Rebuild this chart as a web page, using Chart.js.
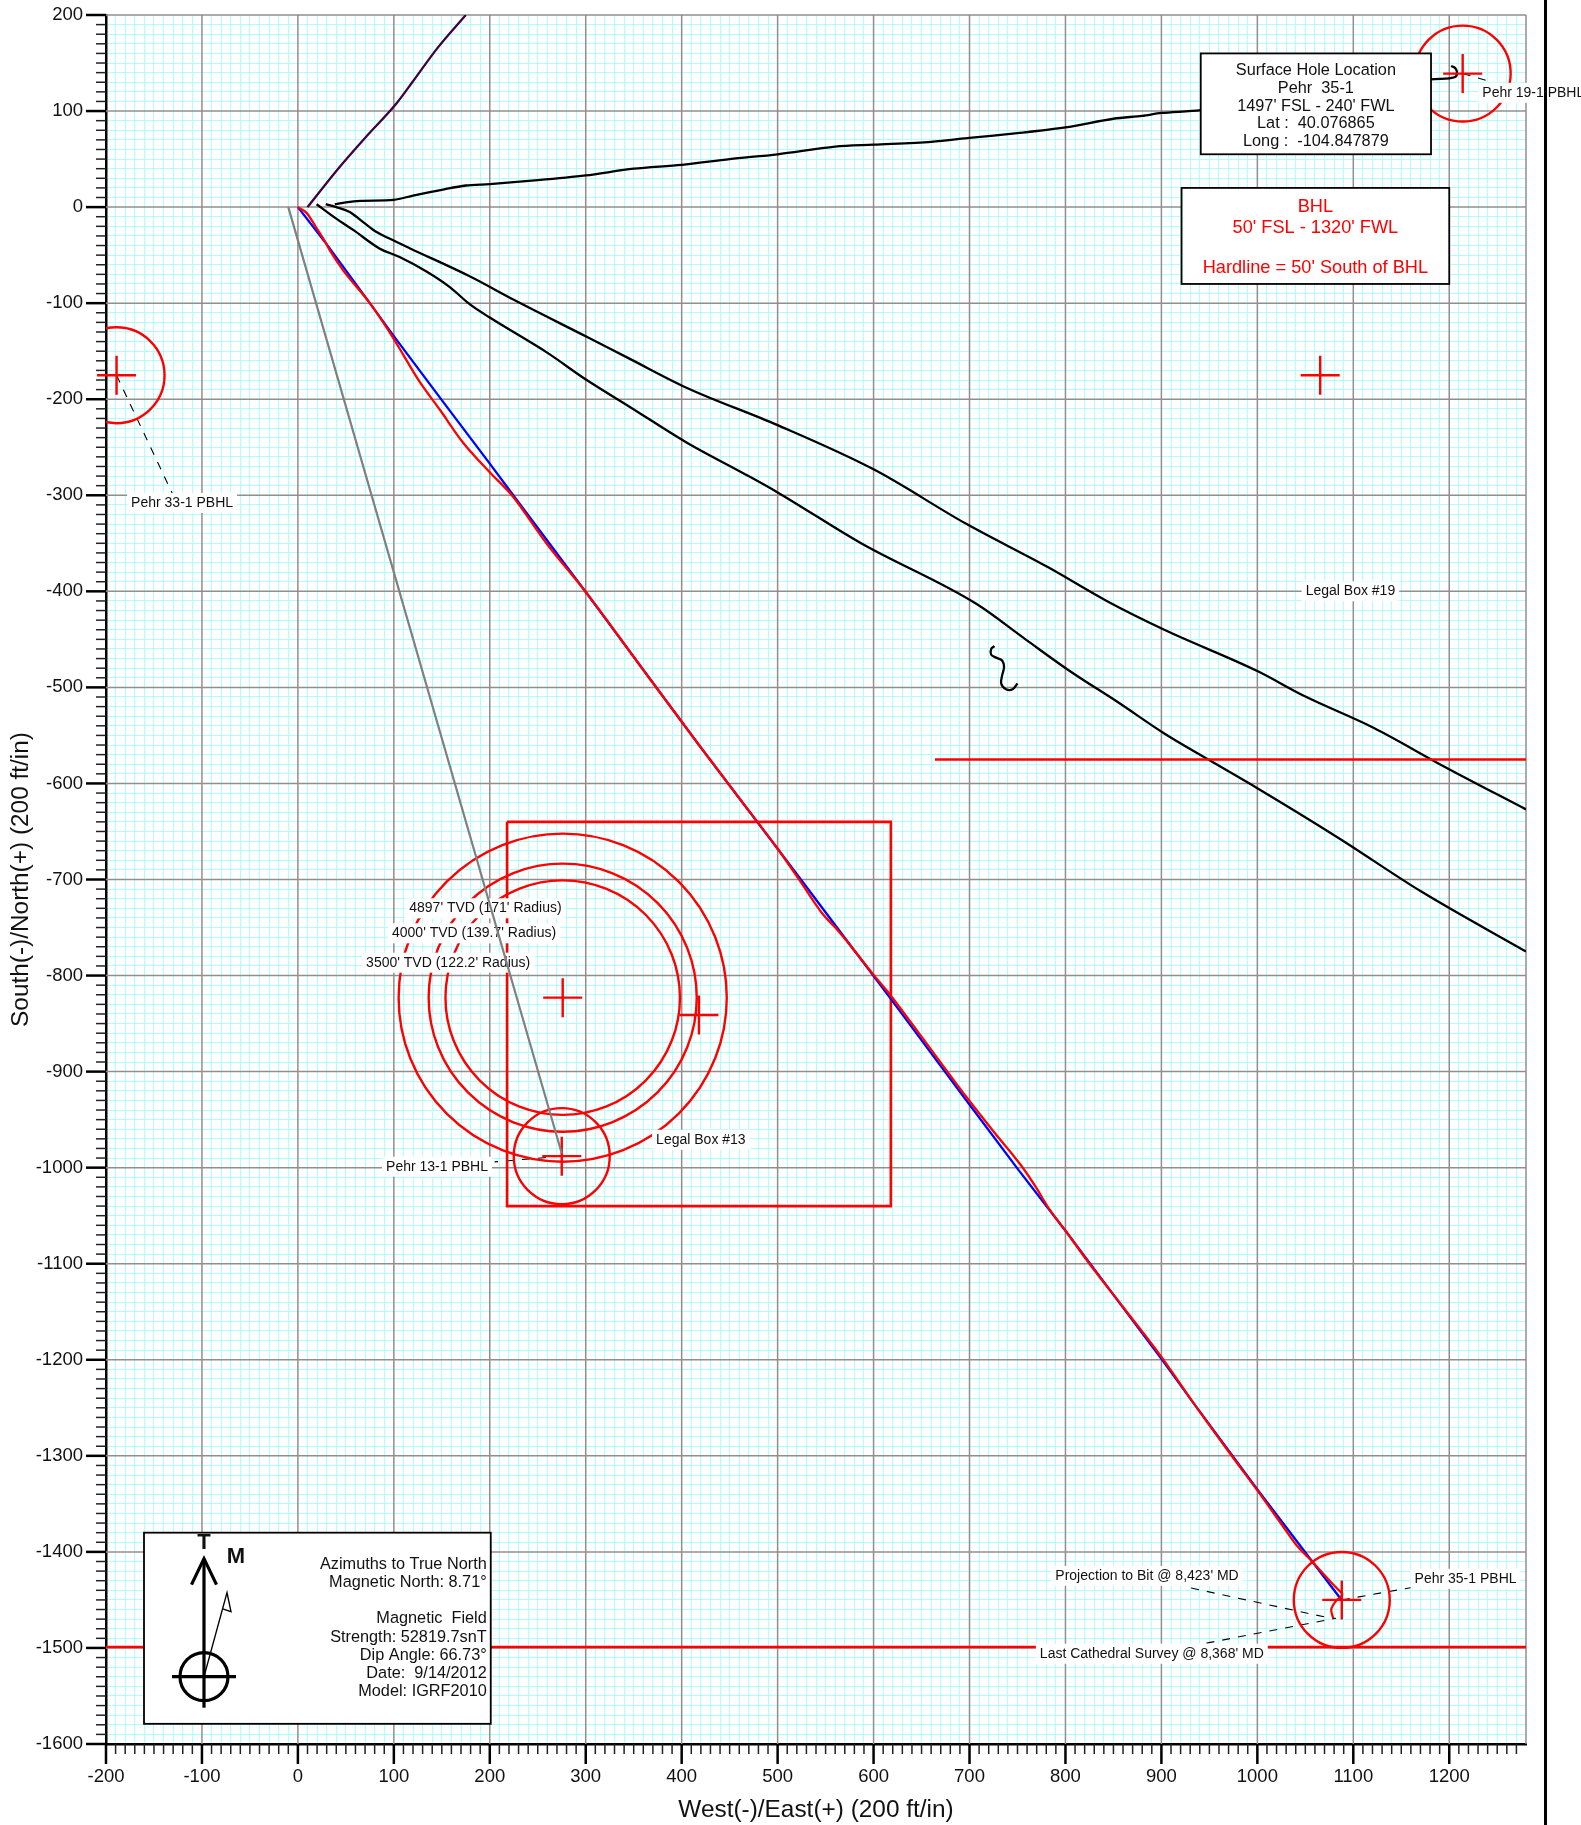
<!DOCTYPE html>
<html>
<head>
<meta charset="utf-8">
<style>
html,body{margin:0;padding:0;background:#fff;overflow:hidden}
#w{position:relative;width:1581px;height:1825px}
canvas{display:block}
</style>
<script src="https://cdn.jsdelivr.net/npm/chart.js@4/dist/chart.umd.min.js"></script>
</head>
<body>
<div id="w"><canvas id="c" width="1581" height="1825"></canvas></div>
<script>
// ---- axis ranges and titles
const xMin = -200, xMax = 1280, yMin = -1600, yMax = 200, minorStep = 10, majorStep = 100;
const xTitle = "West(-)/East(+) (200 ft/in)";
const yTitle = "South(-)/North(+) (200 ft/in)";

// ---- well paths (East, North in ft)
const redX = [0,9,17.7,26.3,33.3,47,75,96,110,127,148,172,200,223,259,301,360,418,462,500,523,547,561,578.5,599,618,648,698,724,754,769,783,801,825,860,900,932,974,1000,1025,1040,1058,1079,1089];
const redY = [0,-6,-19,-32.6,-45,-65.6,-100,-131,-154,-182,-211,-245,-276,-300,-350,-402,-482,-560,-618,-668,-701,-736,-751,-772,-798,-821,-861,-928,-961,-998,-1020,-1043,-1067,-1100,-1145,-1197,-1243,-1301,-1336,-1371,-1392,-1411,-1434,-1444];
const blueX = [0,28,75,99,150,200,226,301,418,462,500,525,577,617,696,750,801,900,932,1000,1058,1087];
const blueY = [0,-36,-100,-133,-201,-267,-302,-402,-560,-618,-668,-701,-770,-823,-929,-1001,-1067,-1199,-1243,-1335,-1411,-1449];
const tailX = [1089,1087,1082,1077,1079];
const tailY = [-1444,-1447,-1451,-1460,-1469];
const purpleX = [10,42,70,102,120,145,175];
const purpleY = [0,40,72,107,131,165,200];
const eastLineX = [38.5,50,65,100,120,150,175,200,250,300,350,400,450,500,560,600,660,700,750,800,850,880,900,941,1181,1200,1207,1208,1206,1202];
const eastLineY = [3,5,6.5,7.5,12,18,22.5,24,28,33,40,44,50,55,63,65,68,72,77,83,92,95,98,101,133,134,136,141,145,147];
const upperX = [29,40,54,68,82,96,117,179,226,301,346,405,500,600,697,782,843,903,1000,1049,1121,1194,1280];
const upperY = [3,0,-5,-15.6,-26,-33,-43,-72,-97,-135,-158,-188,-227,-273,-330,-375,-410,-440,-483,-509,-542,-582,-627];
const lowerX = [19.5,40,58,85,106,134,158,179,200,259,301,346,405,466,500,587,707,757,806,854,903,952,1000,1085,1170,1280];
const lowerY = [3,-12,-24,-43,-52,-67,-83,-101,-115,-151,-180,-208,-245,-278,-297,-350,-413,-449,-484,-515,-548,-577,-605,-657,-712,-775];
const squiggleX = [726,722.6,722.6,727.8,734,736,734,733,738,745,750];
const squiggleY = [-457,-460,-466,-469,-472,-479,-487.5,-496,-502,-502,-496];
const grayX = [-10,275];
const grayY = [0,-985];

// ---- lease lines
const legalBoxX = [218,618,618,218,218];
const legalBoxY = [-640,-640,-1040,-1040,-640];
const hard1X = [664,1280];
const hard1Y = [-575,-575];
const hard2X = [-200,1280];
const hard2Y = [-1499,-1499];

// ---- target circles and crosshairs
const circleX = [276,276,276,275,1214,-189,1088];
const circleY = [-823,-823,-823,-988,139,-175,-1450];
const circleR = [171,139.7,122.2,50,50,50,50];
const crossX = [276,418,275,1214,-189,1065.5,1088];
const crossY = [-823,-841,-988,139,-175,-175,-1450];

// ---- dashed leaders
const leaderX = [[-189,-130],[1214,1238],[1088,1161],[931,1076],[947,1082],[275,205]];
const leaderY = [[-175,-300],[139,132],[-1450,-1437],[-1437.6,-1469],[-1495,-1469],[-988,-994]];

// ---- annotation labels
const labelText = ["Pehr 33-1 PBHL","Legal Box #19","4897' TVD (171' Radius)","4000' TVD (139.7' Radius)","3500' TVD (122.2' Radius)","Legal Box #13","Pehr 13-1 PBHL","Pehr 19-1 PBHL","Projection to Bit @ 8,423' MD","Pehr 35-1 PBHL","Last Cathedral Survey @ 8,368' MD"];
const labelX = [-120.7,1097,195.5,183.6,156.6,420,145,1287.6,885,1217,890];
const labelY = [-308,-400,-730,-756,-786.6,-971,-999,119,-1425,-1428,-1506];

// ---- text boxes
const surfaceLines = ["Surface Hole Location","Pehr  35-1","1497' FSL - 240' FWL","Lat :  40.076865","Long :  -104.847879"];
const bhlLines = ["BHL","50' FSL - 1320' FWL","","Hardline = 50' South of BHL"];
const magLines = ["Azimuths to True North","Magnetic North: 8.71\u00b0","","Magnetic  Field","Strength: 52819.7snT","Dip Angle: 66.73\u00b0","Date:  9/14/2012","Model: IGRF2010"];
const surfaceBox = [941,160,1181,55];
const bhlBox = [921,20,1200,-80];
const magBox = [-160.4,-1380,201,-1579];

const FONT = '"Liberation Sans", Arial, sans-serif';
const pts = (xs, ys) => xs.map((x, i) => ({x, y: ys[i]}));
const line = (xs, ys, color, width, extra) => Object.assign({
  data: pts(xs, ys), showLine: true, borderColor: color, borderWidth: width,
  pointRadius: 0, fill: false, tension: 0, clip: 0
}, extra || {});
const smooth = {cubicInterpolationMode: 'monotone'};

const datasets = [
  line(grayX, grayY, '#808080', 2.2),
  line(redX, redY, '#ff0000', 2.3, smooth),
  line(tailX, tailY, '#ff0000', 2.3, {tension: 0.3}),
  line(blueX, blueY, '#0000ff', 2.3),
  {
    data: pts(crossX, crossY), showLine: false, pointStyle: 'cross',
    pointRadius: ctx => (ctx.chart.chartArea ? 19.5 : 0),
    pointBorderColor: '#ff0000', pointBorderWidth: 2.4,
    pointBackgroundColor: 'transparent', clip: false
  },
  {
    data: pts(circleX, circleY), showLine: false, pointStyle: 'circle',
    pointRadius: ctx => {
      if (!ctx.chart.chartArea) return 0;
      const s = ctx.chart.scales.x;
      return Math.abs(s.getPixelForValue(circleR[ctx.dataIndex]) - s.getPixelForValue(0));
    },
    pointBorderColor: '#ff0000', pointBorderWidth: 2.4,
    pointBackgroundColor: 'transparent', clip: 0
  },
  line(legalBoxX, legalBoxY, '#ff0000', 2.6),
  line(hard1X, hard1Y, '#ff0000', 2.6),
  line(hard2X, hard2Y, '#ff0000', 2.6),
  line(eastLineX, eastLineY, '#000000', 2.3, {tension: 0.3}),
  line(upperX, upperY, '#000000', 2.3, smooth),
  line(lowerX, lowerY, '#000000', 2.3, smooth),
  line(squiggleX, squiggleY, '#000000', 2.3, {tension: 0.35}),
  line(purpleX, purpleY, '#400040', 2.3, smooth)
];
leaderX.forEach((xs, i) => datasets.push(line(xs, leaderY[i], '#000000', 1.1, {borderDash: [8, 8]})));

const tickValue = v => Math.round(v);
const isMajor = (v, max) => v % majorStep === 0 || v === max;
const gridColor = max => ctx => isMajor(tickValue(ctx.tick.value), max) ? 'rgba(0,0,0,0)' : '#aeffff';
const labelCb = v => (tickValue(v) % majorStep === 0 ? String(tickValue(v)) : '');

const overlayPlugin = {
  id: 'overlay',
  beforeDatasetsDraw(chart) {
    const ctx = chart.ctx, sx = chart.scales.x, sy = chart.scales.y;
    ctx.save();
    // major grid on top of the minor grid
    ctx.strokeStyle = '#8f8f8f'; ctx.lineWidth = 1.5;
    sy.ticks.forEach(t => {
      const v = tickValue(t.value);
      if (!isMajor(v, yMax) || v === yMin) return;
      const p = sy.getPixelForValue(v);
      ctx.beginPath(); ctx.moveTo(sx.left, p); ctx.lineTo(sx.right, p); ctx.stroke();
    });
    sx.ticks.forEach(t => {
      const v = tickValue(t.value);
      if (!isMajor(v, xMax) || v === xMin) return;
      const p = sx.getPixelForValue(v);
      ctx.beginPath(); ctx.moveTo(p, sy.top); ctx.lineTo(p, sy.bottom); ctx.stroke();
    });
    // tick marks: long at hundreds, short at tens
    sy.ticks.forEach(t => {
      const v = tickValue(t.value), major = v % majorStep === 0;
      const p = sy.getPixelForValue(v);
      ctx.lineWidth = major ? 2.5 : 1.5;
      ctx.strokeStyle = major ? '#000' : '#222';
      ctx.beginPath(); ctx.moveTo(sx.left, p); ctx.lineTo(sx.left - (major ? 20 : 10), p); ctx.stroke();
    });
    sx.ticks.forEach(t => {
      const v = tickValue(t.value), major = v % majorStep === 0;
      if (v === xMax) return;
      const p = sx.getPixelForValue(v);
      ctx.lineWidth = major ? 2.5 : 1.5;
      ctx.strokeStyle = major ? '#000' : '#222';
      ctx.beginPath(); ctx.moveTo(p, sy.bottom); ctx.lineTo(p, sy.bottom + (major ? 20 : 10)); ctx.stroke();
    });
    ctx.restore();
  },
  beforeDatasetDraw(chart, args) {
    if (args.index !== 0) return;
    const ctx = chart.ctx, sx = chart.scales.x, sy = chart.scales.y;
    const X = v => sx.getPixelForValue(v), Y = v => sy.getPixelForValue(v);
    ctx.save();
    // leader-line labels on white
    ctx.font = '14px ' + FONT;
    ctx.textAlign = 'center'; ctx.textBaseline = 'middle';
    labelText.forEach((t, i) => {
      const w = ctx.measureText(t).width, px = X(labelX[i]), py = Y(labelY[i]);
      ctx.fillStyle = '#fff';
      ctx.fillRect(px - w / 2 - 4, py - 10, w + 8, 20);
    });
    ctx.fillStyle = '#111';
    labelText.forEach((t, i) => ctx.fillText(t, X(labelX[i]), Y(labelY[i])));

    const box = b => {
      const x = X(b[0]), y = Y(b[1]), w = X(b[2]) - x, h = Y(b[3]) - y;
      ctx.fillStyle = '#fff'; ctx.fillRect(x, y, w, h);
      ctx.strokeStyle = '#000'; ctx.lineWidth = 1.8; ctx.strokeRect(x, y, w, h);
      return {x, y, w, h};
    };
    // surface hole box
    let r = box(surfaceBox);
    ctx.font = '16.3px ' + FONT; ctx.fillStyle = '#111'; ctx.textAlign = 'center';
    surfaceLines.forEach((t, i) => ctx.fillText(t, r.x + r.w / 2, r.y + 17.5 + i * 17.6));
    // BHL box
    r = box(bhlBox);
    ctx.font = '18.2px ' + FONT; ctx.fillStyle = '#ff0000';
    bhlLines.forEach((t, i) => ctx.fillText(t, r.x + r.w / 2, r.y + 19.5 + i * 20.2));
    // magnetic box
    r = box(magBox);
    ctx.font = '16.3px ' + FONT; ctx.fillStyle = '#111'; ctx.textAlign = 'right';
    magLines.forEach((t, i) => ctx.fillText(t, r.x + r.w - 4, r.y + 32 + i * 18.1));
    // north arrow
    const ox = r.x + 60, oy = r.y;
    ctx.strokeStyle = '#000'; ctx.lineWidth = 3.2;
    ctx.beginPath(); ctx.moveTo(ox, oy + 26); ctx.lineTo(ox, oy + 175); ctx.stroke();
    ctx.beginPath(); ctx.moveTo(ox - 12.5, oy + 52); ctx.lineTo(ox, oy + 26); ctx.lineTo(ox + 12.5, oy + 52); ctx.stroke();
    ctx.beginPath(); ctx.arc(ox, oy + 144, 24, 0, Math.PI * 2); ctx.stroke();
    ctx.beginPath(); ctx.moveTo(ox - 32, oy + 144); ctx.lineTo(ox + 32, oy + 144); ctx.stroke();
    ctx.lineWidth = 1.4;
    ctx.beginPath(); ctx.moveTo(ox, oy + 144); ctx.lineTo(ox + 23, oy + 60); ctx.lineTo(ox + 27, oy + 79); ctx.lineTo(ox + 18, oy + 76); ctx.stroke();
    ctx.font = 'bold 22px ' + FONT; ctx.fillStyle = '#111'; ctx.textAlign = 'center';
    ctx.fillText('T', ox, oy + 10);
    ctx.fillText('M', ox + 32, oy + 24);
    ctx.restore();
  },
  afterDraw(chart) {
    const ctx = chart.ctx;
    ctx.save();
    ctx.fillStyle = '#000';
    ctx.fillRect(1544, 0, 3, chart.height);
    ctx.restore();
  }
};

new Chart(document.getElementById('c').getContext('2d'), {
  type: 'scatter',
  data: {datasets},
  plugins: [overlayPlugin],
  options: {
    responsive: false,
    animation: false,
    events: [],
    layout: {padding: {top: 15, right: 55, left: 0, bottom: 0}},
    plugins: {legend: {display: false}, tooltip: {enabled: false}, title: {display: false}},
    scales: {
      x: {
        type: 'linear', min: xMin, max: xMax, position: 'bottom',
        afterFit: s => { s.height = 81; s.paddingLeft = 0; s.paddingRight = 0; },
        grid: {color: gridColor(xMax), lineWidth: 1, drawTicks: false},
        border: {display: true, color: '#000', width: 2.5},
        ticks: {stepSize: minorStep, autoSkip: false, maxRotation: 0, padding: 22, callback: labelCb,
                color: '#111', font: {family: FONT, size: 18.5}},
        title: {display: true, text: xTitle, color: '#111', font: {family: FONT, size: 24.4}, padding: {top: 0, bottom: 0.5}}
      },
      y: {
        type: 'linear', min: yMin, max: yMax, position: 'left',
        afterFit: s => { s.width = 106; s.paddingTop = 0; s.paddingBottom = 0; },
        grid: {color: gridColor(yMax), lineWidth: 1, drawTicks: false},
        border: {display: true, color: '#000', width: 2.5},
        ticks: {stepSize: minorStep, autoSkip: false, padding: 23, callback: labelCb,
                color: '#111', font: {family: FONT, size: 18.5}},
        title: {display: true, text: yTitle, color: '#111', font: {family: FONT, size: 24.4}, padding: {top: 6.4, bottom: 0}}
      }
    }
  }
});
</script>
</body>
</html>
